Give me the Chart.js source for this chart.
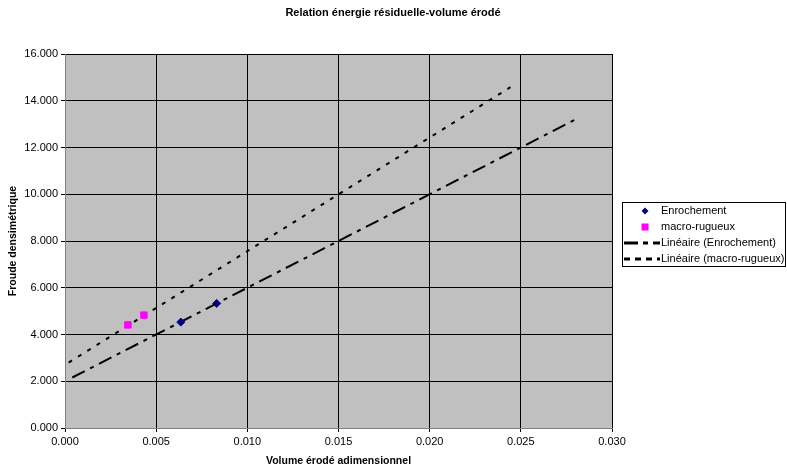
<!DOCTYPE html>
<html>
<head>
<meta charset="utf-8">
<script src="https://cdn.jsdelivr.net/npm/chart.js@4/dist/chart.umd.min.js"></script>
<style>
  body { margin: 0; background: #fff; }
  #wrap { width: 787px; height: 468px; }
</style>
</head>
<body>
<div id="wrap"><canvas id="chart" width="787" height="468"></canvas></div>
<script>
// values
const enrochementX = [0.00635, 0.00832];
const enrochementY = [4.53, 5.33];
const macroX = [0.00345, 0.00433];
const macroY = [4.41, 4.83];
// trendline end points (Excel linear trend, extended)
const trendEnrX = [0.0004, 0.0280];
const trendEnrY = [2.16, 13.2];
const trendMacX = [0.0002, 0.02443];
const trendMacY = [2.80, 14.58];

const titleText = 'Relation énergie résiduelle-volume érodé';
const xTitle = 'Volume érodé adimensionnel';
const yTitle = 'Froude densimétrique';

const toPts = (xs, ys) => xs.map((x, i) => ({ x: x, y: ys[i] }));
const FONT = '"Liberation Sans", Arial, sans-serif';

const datasets = [
  {
    label: 'Enrochement',
    data: toPts(enrochementX, enrochementY),
    pointStyle: 'rectRot',
    pointRadius: 4,
    backgroundColor: '#000080',
    borderColor: '#000080',
    showLine: false,
  },
  {
    label: 'macro-rugueux',
    data: toPts(macroX, macroY),
    pointStyle: 'rect',
    pointRadius: 4.5,
    backgroundColor: '#FF00FF',
    borderColor: '#FF00FF',
    showLine: false,
  },
  {
    label: 'Linéaire (Enrochement)',
    data: toPts(trendEnrX, trendEnrY),
    showLine: true,
    pointRadius: 0,
    borderColor: '#000',
    borderWidth: 2,
    borderDash: [14, 6, 4, 6],
  },
  {
    label: 'Linéaire (macro-rugueux)',
    data: toPts(trendMacX, trendMacY),
    showLine: true,
    pointRadius: 0,
    borderColor: '#000',
    borderWidth: 2,
    borderDash: [4, 7],
  },
];

// grey plot area
const plotBg = {
  id: 'plotBg',
  beforeDraw(chart) {
    const a = chart.chartArea;
    chart.ctx.save();
    chart.ctx.fillStyle = '#C0C0C0';
    chart.ctx.fillRect(a.left, a.top, a.right - a.left, a.bottom - a.top);
    chart.ctx.restore();
  }
};

// title + framed legend drawn by hand, like the Excel original
const extras = {
  id: 'extras',
  afterDraw(chart) {
    const ctx = chart.ctx;
    ctx.save();
    ctx.fillStyle = '#000';
    ctx.font = 'bold 11px ' + FONT;
    ctx.textAlign = 'center';
    ctx.textBaseline = 'middle';
    ctx.fillText(titleText, 393, 13);

    const lx = 622, ly = 202, lw = 163, lh = 64;
    ctx.fillStyle = '#fff';
    ctx.fillRect(lx, ly, lw, lh);
    ctx.strokeStyle = '#000';
    ctx.lineWidth = 1;
    ctx.strokeRect(lx + 0.5, ly + 0.5, lw, lh);

    ctx.font = '11px ' + FONT;
    ctx.textAlign = 'left';
    chart.data.datasets.forEach((ds, i) => {
      const cy = ly + 9 + i * 16;
      if (ds.showLine) {
        ctx.strokeStyle = ds.borderColor;
        ctx.lineWidth = 3;
        ctx.setLineDash(i === 2 ? [14, 5, 5, 5] : [6, 5]);
        ctx.beginPath();
        ctx.moveTo(lx + 2, cy);
        ctx.lineTo(lx + 38, cy);
        ctx.stroke();
        ctx.setLineDash([]);
      } else {
        ctx.fillStyle = ds.backgroundColor;
        ctx.beginPath();
        if (ds.pointStyle === 'rectRot') {
          ctx.moveTo(lx + 23, cy - 3.5);
          ctx.lineTo(lx + 26.5, cy);
          ctx.lineTo(lx + 23, cy + 3.5);
          ctx.lineTo(lx + 19.5, cy);
          ctx.closePath();
        } else {
          ctx.rect(lx + 19.5, cy - 3.5, 7, 7);
        }
        ctx.fill();
      }
      ctx.fillStyle = '#000';
      ctx.fillText(ds.label, lx + 39, cy);
    });
    ctx.restore();
  }
};

new Chart(document.getElementById('chart'), {
  type: 'scatter',
  data: { datasets: datasets },
  plugins: [plotBg, extras],
  options: {
    responsive: false,
    animation: false,
    layout: { padding: { top: 54, right: 175, left: 0, bottom: 0 } },
    plugins: {
      legend: { display: false },
      title: { display: false },
      tooltip: { enabled: false },
    },
    scales: {
      x: {
        type: 'linear',
        min: 0,
        max: 0.03,
        afterFit: (s) => { s.height = 40; },
        ticks: {
          stepSize: 0.005,
          color: '#000',
          font: { family: FONT, size: 11 },
          padding: 3,
          maxRotation: 0,
          callback: (v) => v.toFixed(3),
        },
        grid: { color: '#000', tickLength: 4, drawTicks: true },
        border: { color: '#808080', width: 1 },
        title: {
          display: true,
          text: xTitle,
          color: '#000',
          font: { family: FONT, size: 10.5, weight: 'bold' },
          padding: { top: 2, bottom: 1 },
        },
      },
      y: {
        min: 0,
        max: 16,
        afterFit: (s) => { s.width = 65; },
        ticks: {
          stepSize: 2,
          color: '#000',
          font: { family: FONT, size: 11 },
          padding: 3,
          callback: (v) => v.toFixed(3),
        },
        grid: { color: '#000', tickLength: 4, drawTicks: true },
        border: { color: '#808080', width: 1 },
        title: {
          display: true,
          text: yTitle,
          color: '#000',
          font: { family: FONT, size: 10.5, weight: 'bold' },
          padding: { top: 7, bottom: 2 },
        },
      },
    },
  },
});
</script>
</body>
</html>
